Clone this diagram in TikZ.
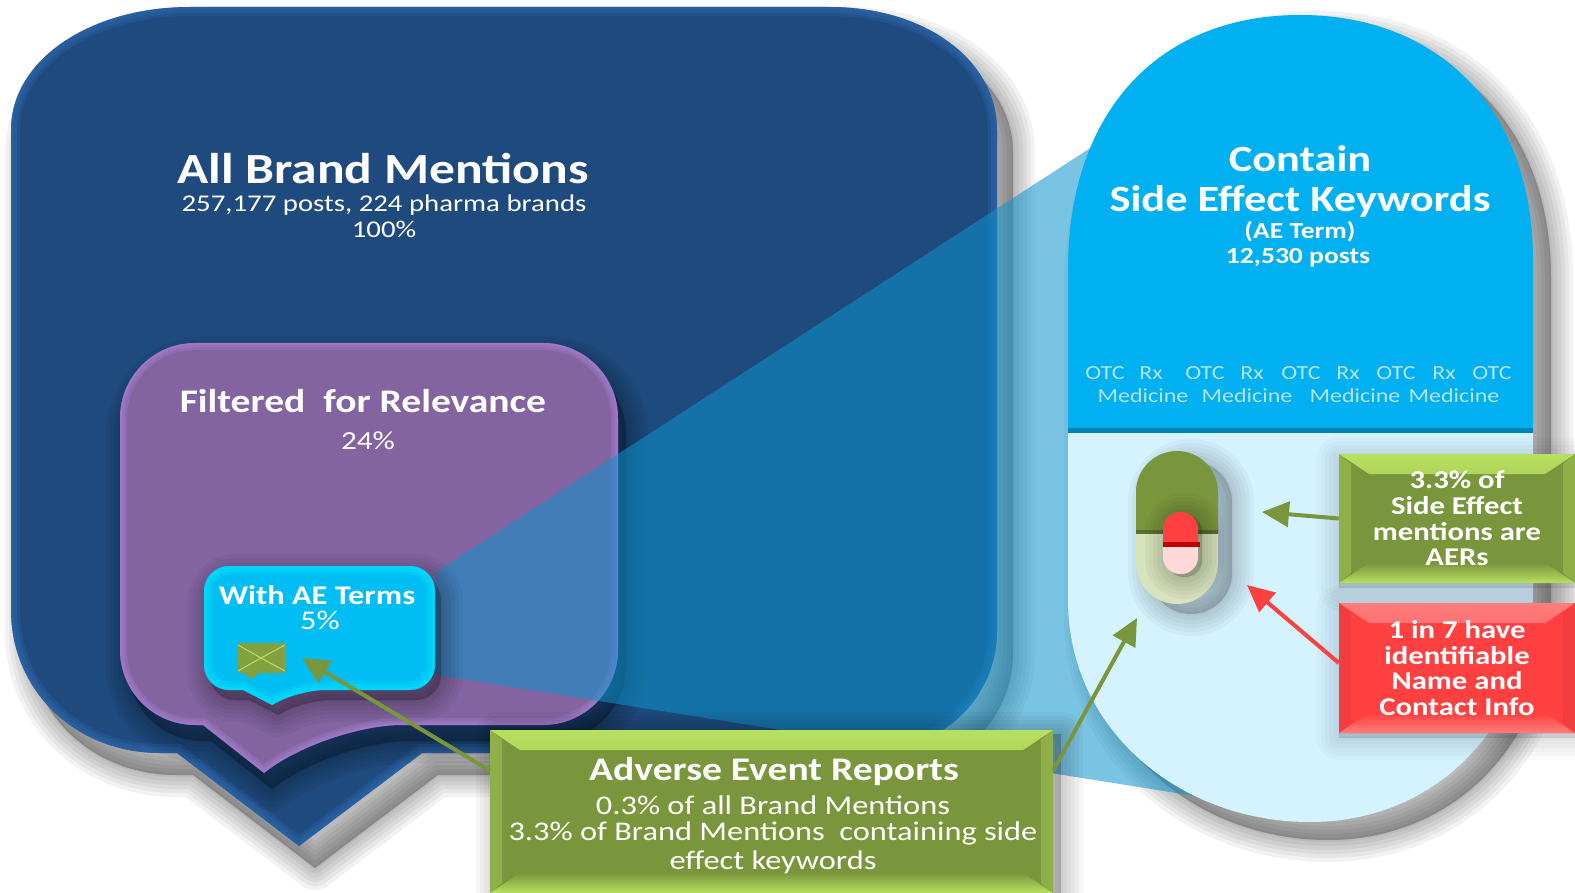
\documentclass[tikz,border=0pt]{standalone}
\usepackage{fontspec}
\setmainfont{Carlito}[FakeStretch=1.2]
\usetikzlibrary{arrows.meta}
\definecolor{navyblue}{HTML}{1F4A7D}
\definecolor{navyedge}{HTML}{3373C4}
\definecolor{plum}{HTML}{8364A0}
\definecolor{plumedge}{HTML}{B98AEA}
\definecolor{skyblue}{HTML}{00B0F0}
\definecolor{cyanedge}{HTML}{00F0FF}
\definecolor{paleblue}{HTML}{D5F2FF}
\definecolor{funnelblue}{HTML}{0D93CC}
\definecolor{olive}{HTML}{7A963C}
\definecolor{olivelite}{HTML}{B8E060}
\definecolor{olivedark}{HTML}{5A7030}
\definecolor{palegreen}{HTML}{D7E3BC}
\definecolor{alertred}{HTML}{FF4040}
\definecolor{alertlite}{HTML}{FF7C7C}
\definecolor{alertdark}{HTML}{D83838}
\newcommand\fs[1]{\fontsize{#1}{#1}\selectfont}
% paths of the big shapes
\newcommand\bigpath{(11,130) .. controls (11,60) and (90,7) .. (190,7) -- (830,7) .. controls (925,7) and (997,60) .. (997,130) -- (997,630) .. controls (997,700) and (940,753) .. (860,753) -- (422,753) -- (299,846) -- (177,753) -- (160,753) .. controls (75,753) and (11,690) .. (11,610) -- cycle}
\newcommand\purplepath{(203,725) [rounded corners=75pt] -- (120,725) -- (120,343) -- (618,343) -- (618,725) -- (327,725) [sharp corners] -- (264,773) -- cycle}
\newcommand\calloutpath{(243,690) [rounded corners=25pt] -- (204,690) -- (204,566) -- (435,566) -- (435,690) -- (300,690) [sharp corners] -- (272,705) -- cycle}
\newcommand\capsulepath{(1068,270) .. controls (1068,110) and (1160,15) .. (1300,15) .. controls (1440,15) and (1533,110) .. (1533,260) -- (1533,590) .. controls (1533,720) and (1440,822) .. (1310,822) .. controls (1180,822) and (1068,730) .. (1068,600) -- cycle}
% soft shadow and inner glow
\newcommand\softshadow[3]{\foreach \w in {44,36,28,20,12,4} {\draw[black, fill=black, opacity=#1, line width=\w pt, line join=round, shift={#2}] #3;}}
\newcommand\softedge[3]{\begin{scope}\clip #3;\foreach \w in {#2} {\draw[#1, opacity=.22, line width=\w pt] #3;}\end{scope}}
\tikzset{
	bevelbox/.style n args={3}{draw=none, fill=#2, inner sep=0pt, align=center, path picture={
		\fill[top color=#1, bottom color=#2] (path picture bounding box.north west) -- (path picture bounding box.north east) -- ([xshift=-30pt,yshift=-20pt]path picture bounding box.north east) -- ([xshift=30pt,yshift=-20pt]path picture bounding box.north west) -- cycle;
		\fill[top color=#2, bottom color=#1] (path picture bounding box.south west) -- (path picture bounding box.south east) -- ([xshift=-30pt,yshift=20pt]path picture bounding box.south east) -- ([xshift=30pt,yshift=20pt]path picture bounding box.south west) -- cycle;
		\fill[#3, opacity=.35] (path picture bounding box.north west) -- ([xshift=12pt,yshift=-10pt]path picture bounding box.north west) -- ([xshift=12pt,yshift=10pt]path picture bounding box.south west) -- (path picture bounding box.south west) -- cycle;
		\fill[#3, opacity=.35] (path picture bounding box.north east) -- ([xshift=-12pt,yshift=-10pt]path picture bounding box.north east) -- ([xshift=-12pt,yshift=10pt]path picture bounding box.south east) -- (path picture bounding box.south east) -- cycle;
	}},
	whitetext/.style={text=white, inner sep=0pt, align=center},
	otclabel/.style={text=otcblue, inner sep=0pt, font=\fs{20}},
	pointer/.style={#1, line width=4pt, -{Triangle[length=27pt,width=25pt]}},
}
\definecolor{otcblue}{HTML}{B4E4F6}
\begin{document}
\begin{tikzpicture}[x=1pt, y=-1pt]
	\useasboundingbox (0,0) rectangle (1575,893);

	% Big speech bubble
	\softshadow{.05}{(16,22)}{\bigpath}
	\fill[navyblue] \bigpath;
	\softedge{navyedge}{18,12,6}{\bigpath}

	% Purple speech bubble
	\softshadow{.045}{(8,16)}{\purplepath}
	\fill[plum] \purplepath;
	\softedge{plumedge}{14,9,4}{\purplepath}

	% Capsule shadow and funnel
	\softshadow{.05}{(18,18)}{\capsulepath}
	\fill[funnelblue, opacity=.55] (436,572) -- (1095,145) -- (1195,796) -- (436,675) -- cycle;

	% Small callout
	\softshadow{.04}{(6,10)}{\calloutpath}
	\fill[skyblue!80!cyanedge] \calloutpath;
	\softedge{cyanedge}{18,12,6}{\calloutpath}

	% Envelope
	\fill[olive!85!olivelite, rounded corners=3pt] (237,643) -- (286,643) -- (286,673) -- (258,673) -- (251,680) -- (245,673) -- (237,673) -- cycle;
	\draw[olivelite, line width=1pt] (238,645) -- (261,658) -- (285,645) (238,671) -- (261,658) -- (285,671);

	% Capsule
	\begin{scope}
		\clip \capsulepath;
		\fill[paleblue] (1060,425) rectangle (1540,830);
		\fill[skyblue] (1060,10) rectangle (1540,428);
		\fill[skyblue!75!black] (1060,428) rectangle (1540,433);
	\end{scope}

	% Big pill
	\softshadow{.03}{(14,10)}{[rounded corners=41pt] (1136,451) rectangle (1218,604)}
	\begin{scope}
		\clip[rounded corners=41pt] (1136,451) rectangle (1218,604);
		\fill[olive] (1130,445) rectangle (1225,532);
		\fill[palegreen] (1130,532) rectangle (1225,610);
		\fill[olivedark] (1130,530) rectangle (1225,534);
	\end{scope}

	% Small pill
	\softshadow{.03}{(4,3)}{[rounded corners=17pt] (1163,512) rectangle (1198,574)}
	\begin{scope}
		\clip[rounded corners=17pt] (1163,512) rectangle (1198,574);
		\fill[alertred] (1160,510) rectangle (1200,544);
		\fill[red!15] (1160,544) rectangle (1200,576);
	\end{scope}
	\fill[red!75!black] (1163,542) rectangle (1200,547);

	% Left texts
	\node[whitetext, font=\fs{43}\bfseries] (allbrand) at (383,169) {All Brand Mentions};
	\node[whitetext, font=\fs{24}] (postcount) at (384,205) {257,177 posts, 224 pharma brands};
	\node[whitetext, font=\fs{24}] (fullshare) at (384,229) {100\%};
	\node[whitetext, font=\fs{33}\bfseries] (filtered) at (363,401) {Filtered\ \ for Relevance};
	\node[whitetext, font=\fs{26}] (filtershare) at (368,441) {24\%};
	\node[whitetext, font=\fs{27}\bfseries] (withae) at (317,595) {With AE Terms};
	\node[whitetext, font=\fs{27}] (aeshare) at (320,620) {5\%};

	% Capsule texts
	\node[whitetext, font=\fs{37}\bfseries] (contain) at (1300,159) {Contain};
	\node[whitetext, font=\fs{37}\bfseries] (sideeffect) at (1300,201) {Side Effect Keywords};
	\node[whitetext, font=\fs{23}\bfseries] (aeterm) at (1300,232) {(AE Term)};
	\node[whitetext, font=\fs{23}\bfseries] (aeposts) at (1298,258) {12,530 posts};
	\foreach \i/\x in {1/1105,2/1205,3/1301,4/1396,5/1492} \node[otclabel] (otc\i) at (\x,373) {OTC};
	\foreach \i/\x in {1/1151,2/1252,3/1348,4/1444} \node[otclabel] (rx\i) at (\x,373) {Rx};
	\foreach \i/\x in {1/1143,2/1247,3/1355,4/1454} \node[otclabel] (medicine\i) at (\x,396) {Medicine};

	% Boxes
	\softshadow{.035}{(8,4)}{(490,730) rectangle (1053,893)}
	\softshadow{.02}{(0,5)}{(1339,454) rectangle (1575,583)}
	\softshadow{.02}{(0,5)}{(1339,603) rectangle (1575,733)}
	\node[bevelbox={olivelite}{olive}{olivelite}, minimum width=563pt, minimum height=163pt, text=white] (reports) at (771.5,811.5) {};
	\node[whitetext, font=\fs{33}\bfseries] (reportstitle) at (774,772) {Adverse Event Reports};
	\node[whitetext, font=\fs{27}] (reportsall) at (773,805) {0.3\% of all Brand Mentions};
	\node[whitetext, font=\fs{27}] (reportsside) at (773,833.5) {3.3\% of Brand Mentions\ \ containing side};
	\node[whitetext, font=\fs{27}] (reportsword) at (773,862) {effect keywords};
	\node[bevelbox={olivelite}{olive}{olivelite}, minimum width=236pt, minimum height=129pt, text=white, font=\fs{25.6}\bfseries] (aerbox) at (1457,518.5) {3.3\% of\\Side Effect\\mentions are\\AERs};
	\node[bevelbox={alertlite}{alertred}{alertdark}, minimum width=236pt, minimum height=130pt, text=white, font=\fs{25.6}\bfseries] (namebox) at (1457,668) {1 in 7 have\\identifiable\\Name and\\Contact Info};

	% Arrows
	\coordinate (envelopetip) at (302,658);
	\coordinate (capsuletip) at (1137,618);
	\coordinate (piltip) at (1262,512);
	\coordinate (contacttip) at (1247,585);
	\draw[pointer=olive] ([yshift=41pt]reports.west) -- (envelopetip);
	\draw[pointer=olive] ([yshift=41pt]reports.east) -- (capsuletip);
	\draw[pointer=olive] (aerbox.west) -- (piltip);
	\draw[pointer=alertred] ([yshift=5pt]namebox.west) -- (contacttip);
\end{tikzpicture}
\end{document}
